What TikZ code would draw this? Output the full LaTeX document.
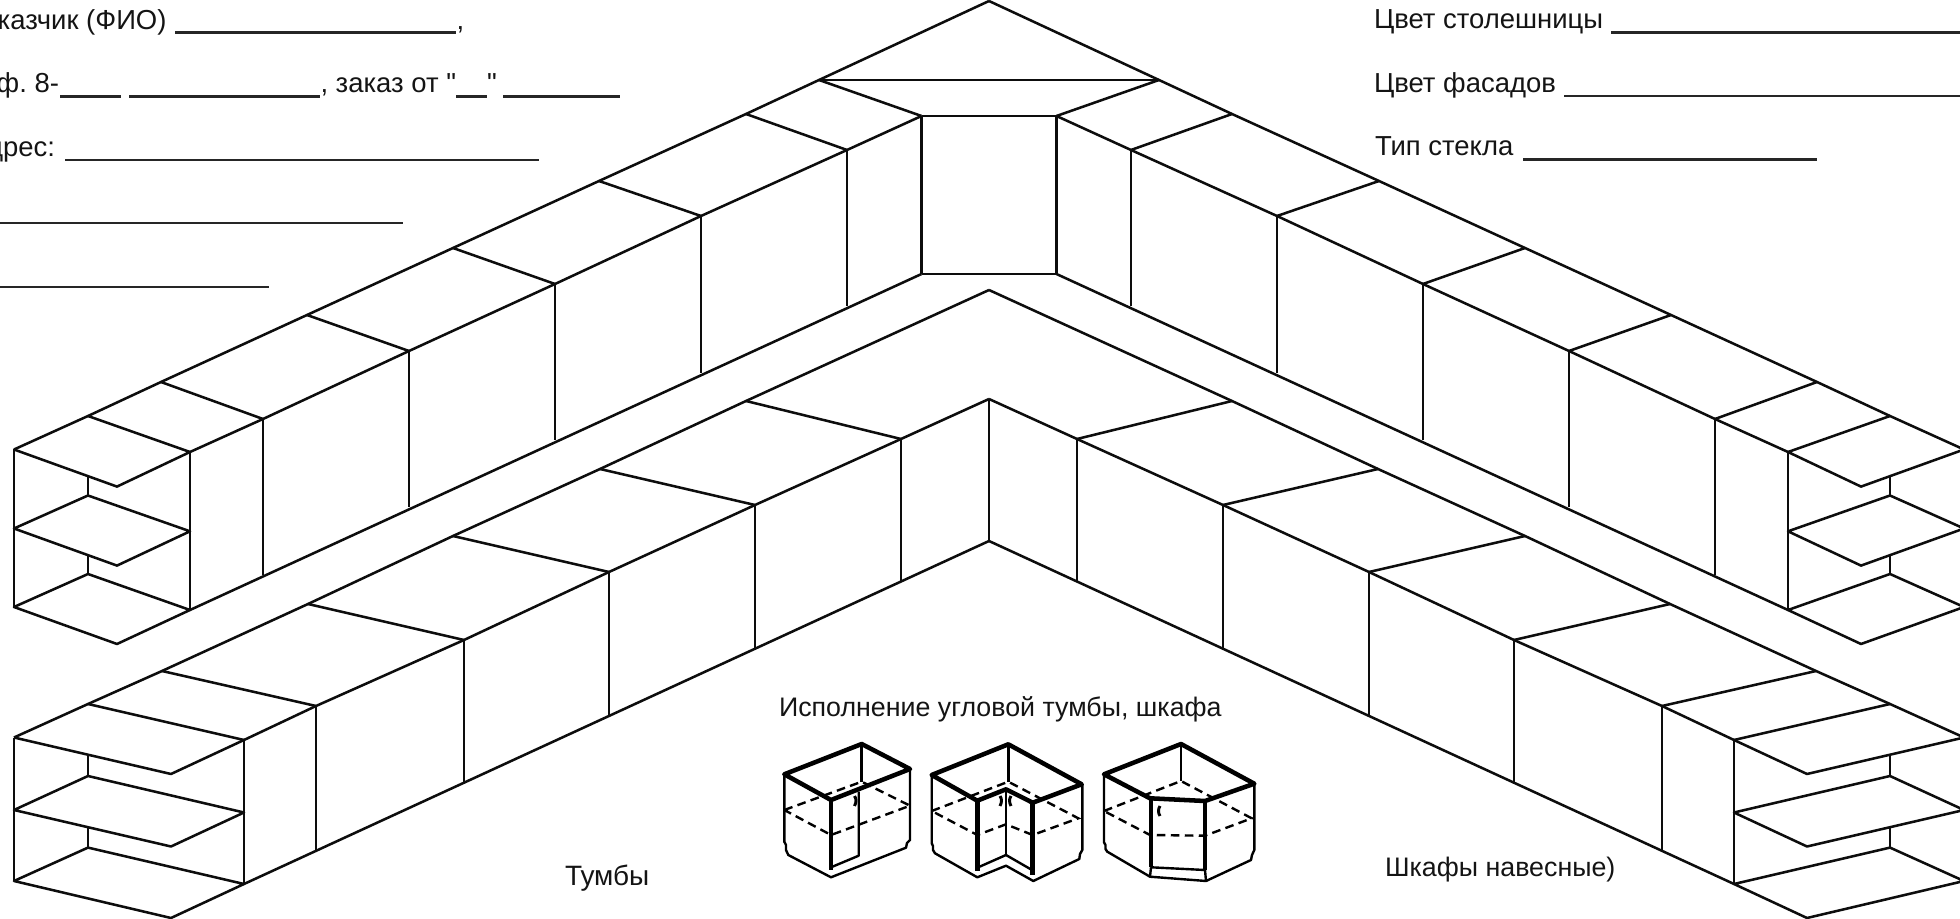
\documentclass[tikz,border=0pt]{standalone}
\usepackage{fontspec}
\setmainfont{Liberation Sans}[Ligatures=TeXOff]
\tikzset{
  form/.style={font=\fontsize{20.6}{25}\selectfont\frenchspacing,inner sep=0pt,outer sep=0pt,text=black!92},
  caption/.style={form,font=\fontsize{20.1}{25}\selectfont\frenchspacing},
  ln/.style={line width=1.9pt,line join=round,black!95},
  blank/.style={line width=1.8pt,black!85},
  cabthin/.style={line width=1.8pt,line join=round,black},
  cabmid/.style={line width=2.2pt,line join=round,black},
  cabthick/.style={line width=3.4pt,line join=round,black},
  cabdash/.style={line width=1.8pt,dash pattern=on 6.5pt off 4pt,black}
}
\newcommand{\upperwing}{%
  \draw[ln] (14,449.5) -- (88,416) -- (161,382) -- (307,315) -- (453,248) -- (599,181) -- (746,114) -- (819,80) -- (989,1);
  \draw[ln] (190,452) -- (263,419) -- (409,351) -- (555,284) -- (701,216) -- (847,150) -- (921.5,116);
  \draw[ln] (190,610) -- (921.5,274);
  \foreach \a/\b/\c/\d in {161/382/263/419,307/315/409/351,453/248/555/284,599/181/701/216,746/114/847/150,819/80/921.5/116}
    \draw[ln] (\a,\b) -- (\c,\d);
  \foreach \a/\b/\c in {190/452/610,263/419/575,409/351/507,555/284/440,701/216/373,847/150/306,921.5/116/274}
    \draw[ln] (\a,\b) -- (\a,\c);
  \draw[ln] (14,449.5) -- (117,486.6) -- (190,452) -- (88,416);
  \draw[ln] (88,476) -- (88,495.5);
  \draw[ln] (14,528.5) -- (88,495.5) -- (190,531.3) -- (117,565.6) -- cycle;
  \draw[ln] (88,554.6) -- (88,574);
  \draw[ln] (14,607) -- (88,574) -- (190,610) -- (117,644) -- cycle;
  \draw[ln] (14,449.5) -- (14,607);
}
\newcommand{\lowerwing}{%
  \draw[ln] (14,737.5) -- (88,704) -- (162,671) -- (308,604) -- (453,536) -- (600,469) -- (746,401) -- (989,290);
  \draw[ln] (244,740) -- (316,706) -- (464,640) -- (609,572) -- (755,505) -- (901,439) -- (989,399);
  \draw[ln] (244,884) -- (989,541);
  \foreach \a/\b/\c/\d in {162/671/316/706,308/604/464/640,453/536/609/572,600/469/755/505,746/401/901/439}
    \draw[ln] (\a,\b) -- (\c,\d);
  \foreach \a/\b/\c in {244/740/884,316/706/851,464/640/784,609/572/716,755/505/648,901/439/581,989/399/541}
    \draw[ln] (\a,\b) -- (\a,\c);
  \draw[ln] (14,737.5) -- (171,774) -- (244,740);
  \draw[ln] (88,704) -- (244,740);
  \draw[ln] (88,755) -- (88,776);
  \draw[ln] (14,810) -- (88,776) -- (244,812.5) -- (171,846.5) -- cycle;
  \draw[ln] (88,827) -- (88,847.6);
  \draw[ln] (14,881) -- (88,847.6) -- (244,884) -- (171,918) -- cycle;
  \draw[ln] (14,737.5) -- (14,881);
}
\begin{document}
\begin{tikzpicture}[x=0.75pt,y=-0.75pt]
\useasboundingbox (0,0) rectangle (1960,919);
\fill[white] (0,0) rectangle (1960,919);
\clip (0,0) rectangle (1960,919);

% kitchen units, each wing mirrored about x = 989
\upperwing
\lowerwing
\begin{scope}[shift={(1978,0)},x=-0.75pt]
  \upperwing
  \lowerwing
\end{scope}
\draw[ln] (819,80) -- (1159,80);
\draw[ln] (921.5,116) -- (1056.5,116);
\draw[ln] (921.5,274) -- (1056.5,274);

% order form
\node[form,anchor=base east] (fio) at (166.5,29.5) {казчик (ФИО)};
\coordinate (fioA) at (175,32.6); \coordinate (fioB) at (456,32.6);
\draw[blank] (fioA) -- (fioB);
\node[form,anchor=base west] (fioc) at (456.5,29.5) {,};

\node[form,anchor=base east] (tel) at (59,92.5) {ф. 8-};
\coordinate (telA) at (60,96.4); \coordinate (telB) at (121,96.4);
\coordinate (telC) at (129,96.4); \coordinate (telD) at (320,96.4);
\draw[blank] (telA) -- (telB);
\draw[blank] (telC) -- (telD);
\node[form,anchor=base west] (ord) at (320.5,92.5) {, заказ от "};
\coordinate (ordA) at (456,96.4); \coordinate (ordB) at (486.5,96.4);
\draw[blank] (ordA) -- (ordB);
\node[form,anchor=base west] (ordq) at (487,92.5) {"};
\coordinate (ordC) at (503,96.4); \coordinate (ordD) at (620,96.4);
\draw[blank] (ordC) -- (ordD);

\node[form,anchor=base east] (adr) at (55,156.5) {дрес:};
\coordinate (adrA) at (65,160); \coordinate (adrB) at (539,160);
\draw[blank] (adrA) -- (adrB);
\coordinate (l4A) at (0,223); \coordinate (l4B) at (403,223);
\draw[blank] (l4A) -- (l4B);
\coordinate (l5A) at (0,287); \coordinate (l5B) at (269,287);
\draw[blank] (l5A) -- (l5B);

\node[form,anchor=base west] (top) at (1374,29) {Цвет столешницы};
\coordinate (topA) at (1611,32.4); \coordinate (topB) at (1960,32.4);
\draw[blank] (topA) -- (topB);
\node[form,anchor=base west] (fac) at (1374,92.5) {Цвет фасадов};
\coordinate (facA) at (1564,96); \coordinate (facB) at (1960,96);
\draw[blank] (facA) -- (facB);
\node[form,anchor=base west] (gla) at (1375,155.5) {Тип стекла};
\coordinate (glaA) at (1523,159.5); \coordinate (glaB) at (1817,159.5);
\draw[blank] (glaA) -- (glaB);

\node[caption,anchor=base west] (corner) at (779,716) {Исполнение угловой тумбы, шкафа};
\node[form,anchor=base west,font=\fontsize{21}{25}\selectfont] (base) at (565,885) {Тумбы};
\node[caption,anchor=base west] (wall) at (1385,876) {Шкафы навесные)};

% corner cabinet 1
\draw[cabdash] (784.3,810) -- (861.7,781.7) -- (910,805.7) -- (831,835) -- cycle;
\draw[cabthin] (784.3,774.3) -- (784.3,841.7) -- (786,845) -- (786,850) -- (788.3,855) -- (831,877.3) -- (906,847.7) -- (907,843) -- (910,840) -- (910,769);
\draw[cabthin] (831,867.3) -- (858.7,855.7) -- (858.7,791.7);
\draw[cabmid] (861.7,744) -- (861.7,781.7);
\draw[cabthick] (831,800) -- (831,870);
\draw[cabthick] (784.3,774.3) -- (861.7,744) -- (910,769) -- (831,800) -- cycle;
\draw[cabmid] (854.5,796) .. controls (856.5,799) and (856.5,802) .. (854.5,806);

% corner cabinet 2
\draw[cabdash] (931.7,811) -- (1008.3,781.7) -- (1078.3,818.3) -- (1032.7,835) -- (1006,824.3) -- (977.3,835) -- cycle;
\draw[cabthin] (931.7,775) -- (931.7,843.3) -- (933,846) -- (933,850) -- (935,853.3) -- (977.3,877.3) -- (1006,865.7) -- (1033.3,881) -- (1079.3,859) -- (1080,854) -- (1082.3,850) -- (1082.3,784.3);
\draw[cabthin] (977.3,867.7) -- (1006,855) -- (1032,870);
\draw[cabmid] (1006,789.3) -- (1006,855);
\draw[cabmid] (1008.3,744.3) -- (1008.3,781.7);
\draw[cabthick] (977.3,800.7) -- (977.3,871);
\draw[cabthick] (1032.7,802.7) -- (1032.7,875);
\draw[cabthick] (931.7,775) -- (1008.3,744.3) -- (1081.7,784.3) -- (1032.7,802.7) -- (1006,789.3) -- (977.3,800.7) -- cycle;
\draw[cabmid] (1000,796) .. controls (1002,799) and (1002,802) .. (1000,806);
\draw[cabmid] (1011,796) .. controls (1009,799) and (1009,802) .. (1011,806);

% corner cabinet 3
\draw[cabdash] (1104,811) -- (1181,781) -- (1251.7,818.3) -- (1205,835.7) -- (1150,835) -- cycle;
\draw[cabthin] (1104,774.3) -- (1104,842.3) -- (1105.5,845) -- (1105.5,849) -- (1107.3,851.7) -- (1150,876.7) -- (1206,881) -- (1251,860) -- (1252,855) -- (1254.3,850) -- (1254.3,783.7);
\draw[cabthin] (1151,867.3) -- (1205,870);
\draw[cabmid] (1181,744) -- (1181,781);
\draw[cabthick] (1151,798.3) -- (1151,867.3);
\draw[cabthick] (1205,801) -- (1205,870);
\draw[cabthin] (1151,867.3) -- (1150,876.7);
\draw[cabthin] (1205,870) -- (1206,881);
\draw[cabthick] (1104,774.3) -- (1181,744) -- (1254.3,783.7) -- (1205,801) -- (1150,798.3) -- cycle;
\draw[cabmid] (1160,806) .. controls (1158,809) and (1158,813) .. (1160,816);
\end{tikzpicture}
\end{document}
